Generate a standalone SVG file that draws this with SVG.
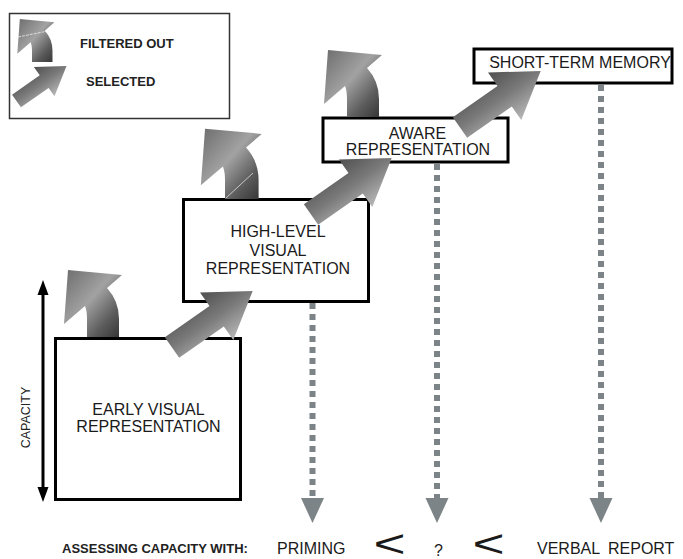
<svg xmlns="http://www.w3.org/2000/svg" xmlns:xlink="http://www.w3.org/1999/xlink" width="683" height="559" viewBox="0 0 683 559">
<style>
  .box { fill: #ffffff; stroke: #000000; stroke-width: 3; }
  .lbl { font-family: "Liberation Sans", Arial, sans-serif; font-size: 16px; fill: #1a1a1a; text-anchor: middle; }
  .small { font-family: "Liberation Sans", Arial, sans-serif; font-size: 13px; font-weight: bold; fill: #222222; }
  .bot { font-family: "Liberation Sans", Arial, sans-serif; font-size: 16px; fill: #1a1a1a; }
  .lt { font-family: "Liberation Sans", Arial, sans-serif; font-size: 38px; fill: #1a1a1a; text-anchor: middle; }
  .dots { stroke: #7d8487; stroke-width: 6; stroke-dasharray: 6 5; fill: none; }
  .dhead { fill: #7d8487; }
  .sel { fill: url(#gSel); }
  .filt { fill: url(#gFilt); }
  .art { stroke: #ffffff; stroke-width: 0.8; fill: none; opacity: 0.8; }
</style>
<defs>
  <linearGradient id="gSel" x1="0" y1="0" x2="0" y2="1">
    <stop offset="0" stop-color="#505050"/>
    <stop offset="0.5" stop-color="#7a7a7a"/>
    <stop offset="1" stop-color="#b8b8b8"/>
  </linearGradient>
  <linearGradient id="gFilt" x1="0" y1="0" x2="1" y2="1">
    <stop offset="0" stop-color="#6c6c6c"/>
    <stop offset="0.45" stop-color="#a2a2a2"/>
    <stop offset="0.75" stop-color="#5c5c5c"/>
    <stop offset="1" stop-color="#323232"/>
  </linearGradient>
  <path id="filtArrow" class="filt" d="M0,0 L0,-18 Q0,-26 -2,-31 L-23,-13 L-19,-67 L35,-62 L20,-49 Q32,-36 32,-18 L32,0 Z"/>
  <path id="selArrow" class="sel" d="M0,-12.5 L54.5,-12.5 L54.5,-29 L98.5,0 L54.5,29 L54.5,12.5 L0,12.5 Z"/>
</defs>
<rect width="683" height="559" fill="#ffffff"/>

<g id="legend">
  <rect x="9.5" y="13.5" width="220" height="105" fill="#ffffff" stroke="#333333" stroke-width="1.5"/>
  <use xlink:href="#filtArrow" transform="translate(32,62) scale(0.64)"/>
  <line class="art" x1="18" y1="37" x2="53" y2="30" stroke-dasharray="3 1"/>
  <use xlink:href="#selArrow" transform="translate(16.5,101) rotate(-35) scale(0.62)"/>
  <text class="small" x="80" y="48">FILTERED OUT</text>
  <text class="small" x="86" y="86">SELECTED</text>
</g>

<g id="capacity">
  <line x1="43" y1="292" x2="43" y2="490" stroke="#000000" stroke-width="3"/>
  <polygon points="43,280 37.5,295 48.5,295" fill="#000000"/>
  <polygon points="43,502 37.5,487 48.5,487" fill="#000000"/>
  <text transform="translate(30,417.5) rotate(-90)" font-family="Liberation Sans, Arial, sans-serif" font-size="12.5" fill="#222222" text-anchor="middle">CAPACITY</text>
</g>

<g id="early">
  <rect class="box" x="55.5" y="338.5" width="185" height="161"/>
  <text class="lbl" x="148.5" y="415">EARLY VISUAL</text>
  <text class="lbl" x="148.5" y="432">REPRESENTATION</text>
</g>

<g id="highlevel">
  <rect class="box" x="183.5" y="199.5" width="185" height="102"/>
  <text class="lbl" x="278" y="237">HIGH-LEVEL</text>
  <text class="lbl" x="278" y="256">VISUAL</text>
  <text class="lbl" x="278" y="274">REPRESENTATION</text>
</g>

<g id="aware">
  <rect class="box" x="323" y="118" width="185" height="44"/>
  <text class="lbl" x="417.5" y="139">AWARE</text>
  <text class="lbl" x="418" y="155">REPRESENTATION</text>
</g>

<g id="stm">
  <rect class="box" x="474" y="49" width="198" height="34"/>
  <text class="lbl" x="580" y="68">SHORT-TERM MEMORY</text>
</g>

<g id="filtered">
  <use xlink:href="#filtArrow" transform="translate(87,337)"/>
  <use xlink:href="#filtArrow" transform="translate(225,199) scale(1.05)"/>
  <line class="art" x1="226" y1="198" x2="253" y2="173"/>
  <use xlink:href="#filtArrow" transform="translate(347,117)"/>
</g>

<g id="connectors">
  <use xlink:href="#selArrow" transform="translate(172,347.5) rotate(-35)"/>
  <use xlink:href="#selArrow" transform="translate(311,214.5) rotate(-35)"/>
  <use xlink:href="#selArrow" transform="translate(460,127.5) rotate(-35)"/>
  <line class="dots" x1="312.5" y1="303" x2="312.5" y2="500"/>
  <polygon class="dhead" points="301,498 324,498 312.5,523"/>
  <line class="dots" x1="437" y1="164" x2="437" y2="500"/>
  <polygon class="dhead" points="425.5,498 448.5,498 437,523"/>
  <line class="dots" x1="601" y1="85" x2="601" y2="500"/>
  <polygon class="dhead" points="589.5,498 612.5,498 601,523"/>
</g>

<g id="assessing">
  <text class="small" x="62" y="553">ASSESSING CAPACITY WITH:</text>
  <text class="bot" x="277" y="554">PRIMING</text>
  <text class="lt" transform="translate(389.5,557) scale(1.45,1)">&lt;</text>
  <text class="bot" x="438.5" y="556" text-anchor="middle">?</text>
  <text class="lt" transform="translate(488.5,557) scale(1.45,1)">&lt;</text>
  <text class="bot" x="537" y="554" word-spacing="4">VERBAL REPORT</text>
</g>
</svg>
